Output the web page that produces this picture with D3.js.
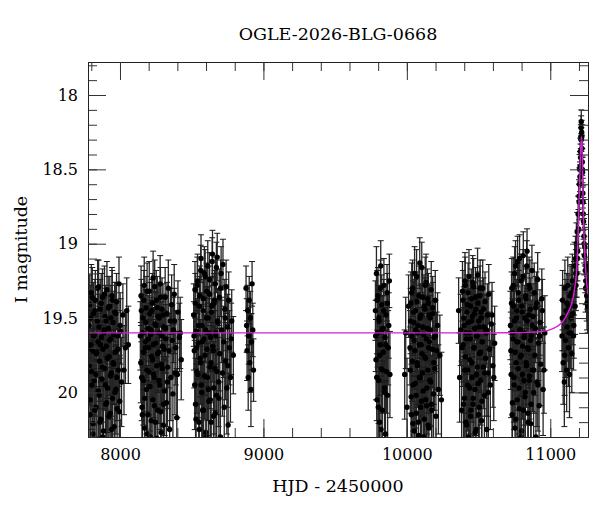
<!DOCTYPE html>
<html><head><meta charset="utf-8">
<script src="https://cdn.jsdelivr.net/npm/d3@7"></script>
<style>
html,body{margin:0;padding:0;background:#fff;}
svg text{font-family:"DejaVu Serif",serif;fill:#000;}
</style></head>
<body>
<svg id="c" width="600" height="512"></svg>
<script>
const title = "OGLE-2026-BLG-0668";
const xLabel = "HJD - 2450000";
const yLabel = "I magnitude";
const xTickValues = [8000, 9000, 10000, 11000];
const yTickValues = [18, 18.5, 19, 19.5, 20];

// season 1
const t1 = [7782,7786,7789,7793,7797,7800,7804,7809,7812,7815,7819,7824,7828,7831,7835,7839,7842,7847,7851,7855,7858,7862,7866,7871,7874,7878,7882,7885,7890,7894,7897,7901,7905,7909,7913,7916,7920,7925,7929,7932,7936,7940,7944,7948,7951,7956,7960,7963,7967,7972,7976,7980,7984,7989,7993,7998,8004,8011,8020,8038];
const m1 = [19.55,19.82,19.41,20.05,19.68,19.33,19.95,19.72,20.21,19.47,19.61,20.12,19.38,19.88,19.74,20.32,19.52,19.66,19.29,20.02,19.79,19.44,20.18,19.63,19.91,19.36,19.71,20.26,19.58,19.84,19.49,20.08,19.69,19.31,19.97,20.35,19.57,19.76,19.42,20.14,19.64,19.87,19.35,20.04,19.53,19.81,20.23,19.46,19.73,19.98,19.39,20.11,19.62,19.85,19.27,20.06,19.59,19.93,19.48,19.70];
const e1 = [.22,.27,.2,.31,.24,.19,.3,.25,.34,.21,.23,.33,.2,.28,.26,.36,.22,.24,.18,.31,.27,.2,.34,.23,.29,.19,.25,.35,.22,.28,.21,.32,.24,.19,.3,.37,.22,.26,.2,.33,.23,.29,.19,.31,.21,.27,.35,.2,.25,.3,.19,.33,.23,.28,.18,.31,.22,.3,.21,.24];
const t1b = [7784,7791,7795,7802,7807,7811,7817,7821,7826,7833,7837,7844,7849,7853,7860,7864,7869,7876,7880,7887,7892,7899,7903,7907,7911,7918,7923,7927,7934,7938,7942,7946,7953,7958,7965,7970,7978,7986,7995,8001,8028,8047,8058];
const m1b = [19.7,20.15,19.5,19.86,19.36,20.28,19.62,19.92,19.45,20.1,19.73,19.3,19.99,19.56,20.2,19.68,19.4,19.83,20.3,19.6,19.34,19.95,19.52,20.07,19.77,19.43,20.16,19.65,19.89,19.5,20.25,19.38,19.8,19.61,20.0,19.47,19.9,19.71,20.13,19.55,19.85,19.45,19.68];
const e1b = [.25,.33,.22,.29,.2,.36,.24,.3,.21,.32,.26,.19,.31,.22,.34,.25,.2,.28,.37,.23,.19,.3,.22,.32,.27,.21,.33,.24,.29,.22,.36,.2,.28,.23,.31,.21,.29,.25,.33,.22,.3,.22,.26];
// season 2
const t2 = [8142,8147,8151,8156,8160,8165,8169,8173,8178,8182,8187,8191,8196,8200,8204,8209,8213,8218,8222,8227,8231,8235,8240,8244,8249,8253,8258,8262,8266,8271,8275,8280,8284,8289,8293,8297,8302,8306,8311,8315,8320,8324,8328,8333,8337,8342,8346,8351,8355,8360,8364,8369,8373,8378,8383,8389,8396,8404,8414,8427];
const m2 = [19.62,19.35,19.9,20.15,19.5,19.73,19.28,20.04,19.66,19.43,19.85,20.28,19.57,19.7,19.32,19.96,19.61,20.19,19.45,19.78,19.23,19.88,20.09,19.54,19.67,19.38,20.31,19.74,19.49,19.92,19.6,19.27,20.13,19.81,19.44,19.69,20.22,19.56,19.99,19.36,19.64,20.07,19.47,19.83,19.3,19.72,20.25,19.52,19.9,19.41,19.65,20.01,19.58,19.34,19.87,19.7,20.17,19.46,19.63,19.78];
const e2 = [.23,.2,.29,.33,.22,.25,.19,.31,.24,.21,.28,.36,.22,.25,.2,.3,.23,.34,.21,.27,.18,.29,.32,.22,.24,.2,.37,.26,.21,.29,.23,.19,.33,.27,.21,.24,.35,.22,.3,.2,.23,.31,.21,.28,.19,.25,.35,.22,.29,.2,.24,.31,.22,.2,.28,.25,.33,.21,.23,.27];
const t2b = [8145,8149,8154,8158,8163,8167,8171,8176,8180,8185,8189,8194,8198,8202,8207,8211,8216,8220,8225,8229,8233,8238,8242,8247,8251,8256,8260,8264,8269,8273,8278,8282,8287,8291,8295,8300,8304,8309,8318,8331,8380,8400,8420];
const m2b = [19.8,19.45,20.1,19.6,19.92,19.38,20.24,19.7,19.53,19.98,19.32,20.15,19.64,19.86,19.47,20.3,19.58,19.76,19.4,20.05,19.68,19.9,19.29,20.2,19.55,19.82,19.43,20.12,19.73,19.5,19.95,19.36,20.27,19.62,19.84,19.48,20.08,19.71,19.57,19.93,19.52,19.88,19.6];
const e2b = [.27,.21,.32,.23,.3,.2,.35,.25,.22,.3,.19,.33,.24,.29,.21,.37,.22,.27,.2,.31,.25,.29,.18,.34,.22,.28,.21,.33,.26,.22,.3,.2,.36,.23,.28,.21,.32,.26,.22,.3,.22,.29,.24];
// season 3
const t3 = [8514,8518,8523,8527,8532,8536,8541,8545,8550,8554,8559,8563,8567,8572,8576,8581,8585,8590,8594,8599,8603,8607,8612,8616,8621,8625,8630,8634,8638,8643,8647,8652,8656,8661,8665,8669,8674,8678,8683,8687,8692,8696,8700,8705,8709,8714,8718,8723,8727,8731,8736,8740,8745,8749,8754,8758,8763,8770,8779,8790];
const m3 = [19.48,19.72,19.31,20.08,19.59,19.86,19.25,19.67,20.2,19.42,19.77,19.18,19.95,19.55,20.12,19.37,19.64,19.89,19.22,20.27,19.5,19.71,19.15,19.98,19.6,19.34,20.05,19.8,19.46,19.12,19.69,20.16,19.4,19.84,19.27,19.62,20.02,19.09,19.53,19.93,19.36,19.74,20.3,19.2,19.58,19.87,19.14,19.66,20.1,19.44,19.79,19.29,19.97,19.56,20.22,19.38,19.7,19.9,19.52,19.75];
const e3 = [.21,.25,.19,.31,.22,.28,.18,.24,.34,.2,.26,.17,.3,.22,.33,.19,.23,.29,.18,.36,.21,.25,.17,.31,.23,.19,.32,.27,.2,.16,.24,.34,.2,.28,.18,.23,.31,.16,.22,.3,.19,.25,.37,.18,.22,.29,.17,.24,.33,.2,.26,.18,.31,.22,.35,.19,.25,.3,.21,.26];
const t3b = [8516,8521,8525,8530,8534,8539,8543,8548,8552,8557,8561,8565,8570,8574,8579,8583,8588,8592,8597,8601,8605,8610,8614,8619,8623,8628,8632,8636,8641,8645,8650,8654,8659,8663,8667,8672,8676,8681,8690,8702,8734,8752,8775];
const m3b = [19.62,19.95,19.4,20.18,19.7,19.28,19.88,19.55,20.25,19.35,19.8,19.1,20.0,19.66,19.45,20.12,19.2,19.75,19.58,20.3,19.32,19.9,19.5,20.06,19.24,19.83,19.63,20.2,19.42,19.07,19.72,19.97,19.38,20.14,19.6,19.16,19.86,19.52,20.04,19.3,19.5,19.82,19.64];
const e3b = [.23,.3,.2,.34,.25,.19,.29,.22,.36,.2,.28,.16,.31,.24,.21,.33,.18,.27,.22,.37,.19,.29,.21,.32,.18,.28,.23,.35,.2,.16,.26,.31,.2,.33,.23,.17,.29,.22,.31,.19,.22,.28,.24];
// season 4
const t4 = [8879,8883,8886,8890,8894,8898,8901,8905,8909,8913,8917,8921,8926,8931];
const m4 = [19.3,19.55,19.72,19.45,19.9,19.62,19.38,19.8,19.5,19.98,19.66,19.27,19.58,19.85];
const e4 = [.15,.18,.2,.17,.22,.19,.16,.2,.18,.25,.19,.15,.18,.21];
// season 5
const t5 = [9781,9785,9788,9792,9796,9799,9803,9807,9810,9814,9818,9822,9825,9829,9833,9836,9840,9844,9848,9851,9855,9859,9862,9866,9870,9874,9878,9882];
const m5 = [19.45,19.78,19.2,20.05,19.6,19.35,19.92,19.52,20.2,19.68,19.15,19.84,19.41,20.12,19.57,19.73,19.28,19.97,19.63,20.28,19.48,19.86,19.33,20.02,19.7,19.55,19.25,19.88];
const e5 = [.2,.27,.18,.31,.23,.19,.29,.21,.34,.25,.17,.28,.2,.33,.22,.26,.18,.31,.24,.36,.21,.28,.19,.32,.25,.22,.18,.29];
const t5b = [9783,9790,9794,9801,9805,9812,9816,9820,9827,9831,9838,9846,9853,9864];
const m5b = [19.62,19.9,19.38,20.1,19.5,19.75,19.3,20.25,19.58,19.85,19.45,20.0,19.68,19.4];
const e5b = [.24,.29,.2,.33,.22,.27,.19,.36,.23,.29,.21,.31,.25,.2];
// season 6
const t6 = [9985,9992,10001,10012,10022,10026,10030,10034,10038,10042,10046,10050,10054,10058,10062,10066,10070,10074,10078,10082,10086,10090,10094,10098,10102,10106,10110,10114,10118,10122,10126,10130,10134,10138,10142,10146,10150,10154,10158,10162,10166,10170,10174,10178,10182,10186,10190,10194,10198,10203,10208,10214,10220,10230,10241];
const m6 = [19.88,19.6,20.1,19.42,19.7,19.52,20.03,19.33,19.79,20.21,19.46,19.65,19.2,19.94,19.58,20.14,19.39,19.82,19.55,20.29,19.68,19.13,19.9,19.48,20.06,19.74,19.36,19.99,19.61,20.18,19.44,19.77,19.26,20.09,19.57,19.85,19.4,20.24,19.66,19.5,19.93,19.31,20.12,19.71,19.47,20.01,19.63,19.84,19.38,20.16,19.72,19.55,19.98,19.75,20.05];
const e6 = [.3,.24,.33,.21,.25,.22,.31,.2,.27,.35,.21,.24,.18,.3,.23,.34,.2,.28,.22,.37,.25,.17,.29,.21,.32,.26,.2,.31,.24,.35,.21,.27,.19,.32,.22,.29,.2,.36,.24,.22,.3,.19,.33,.26,.21,.31,.24,.28,.2,.34,.26,.22,.3,.27,.32];
const t6b = [10024,10028,10032,10036,10040,10044,10048,10052,10056,10060,10064,10068,10072,10076,10080,10084,10088,10092,10096,10100,10104,10108,10112,10116,10120,10124,10128,10132,10136,10140,10144,10148,10152,10156,10160,10164,10172,10180,10188,10200];
const m6b = [19.85,19.4,20.15,19.62,19.3,19.95,19.53,20.26,19.72,19.45,20.02,19.22,19.8,19.6,20.2,19.35,19.9,19.5,20.1,19.68,19.16,19.87,19.56,20.3,19.42,19.76,19.28,20.05,19.64,19.97,19.37,20.22,19.7,19.48,19.92,19.58,20.08,19.43,19.8,19.62];
const e6b = [.29,.21,.34,.24,.19,.31,.22,.37,.26,.21,.32,.18,.28,.23,.35,.2,.3,.22,.33,.25,.17,.29,.22,.38,.21,.27,.19,.32,.24,.31,.2,.36,.26,.21,.3,.23,.33,.21,.28,.24];
// season 7
const t7 = [10361,10368,10375,10382,10388,10393,10397,10401,10405,10409,10413,10417,10421,10425,10429,10433,10437,10441,10445,10449,10453,10457,10461,10465,10469,10473,10477,10481,10485,10489,10493,10497,10501,10505,10509,10513,10517,10521,10525,10529,10533,10537,10541,10545,10549,10553,10557,10561,10566,10571,10576,10582,10589,10600,10612];
const m7 = [19.45,19.9,19.58,20.12,19.32,19.68,19.5,20.04,19.25,19.76,19.6,20.22,19.41,19.85,19.53,19.22,19.97,19.64,20.16,19.37,19.8,19.49,20.08,19.29,19.7,19.57,20.27,19.44,19.88,19.62,19.21,19.94,19.52,20.1,19.35,19.73,19.46,20.19,19.66,19.3,19.83,19.56,20.02,19.39,19.77,19.6,20.25,19.48,19.87,19.34,19.71,19.95,19.54,19.82,19.67];
const e7 = [.22,.3,.24,.33,.2,.25,.21,.31,.19,.27,.23,.35,.2,.29,.22,.18,.31,.24,.34,.2,.28,.21,.32,.19,.25,.23,.37,.21,.29,.24,.18,.3,.22,.33,.2,.26,.21,.35,.24,.19,.28,.22,.31,.2,.27,.23,.36,.21,.29,.2,.25,.3,.22,.28,.25];
const t7b = [10385,10391,10395,10399,10403,10407,10411,10415,10419,10423,10427,10431,10435,10439,10443,10447,10451,10455,10459,10463,10467,10471,10475,10479,10483,10487,10491,10495,10499,10503,10507,10511,10515,10519,10523,10527,10535,10543,10555,10568,10594,10606];
const m7b = [19.7,19.38,20.08,19.55,19.85,19.28,20.2,19.64,19.46,19.95,19.33,20.3,19.6,19.78,19.42,20.12,19.52,19.9,19.26,20.04,19.7,19.47,19.98,19.36,20.25,19.62,19.83,19.4,20.15,19.56,19.74,19.3,19.92,19.5,20.06,19.66,19.44,19.87,19.58,20.0,19.48,19.9];
const e7b = [.26,.2,.32,.23,.29,.19,.34,.24,.21,.31,.2,.38,.23,.27,.21,.33,.22,.3,.18,.32,.25,.21,.31,.2,.36,.24,.28,.21,.34,.22,.26,.19,.3,.22,.32,.24,.21,.29,.23,.31,.22,.29];
// season 8
const t8 = [10722,10727,10732,10736,10740,10744,10748,10752,10756,10760,10764,10768,10772,10776,10780,10784,10788,10792,10796,10800,10804,10808,10812,10816,10820,10824,10828,10832,10836,10840,10844,10848,10852,10856,10860,10864,10868,10872,10876,10880,10884,10888,10892,10896,10900,10904,10908,10912,10917,10922,10928,10934,10941,10950,10962];
const m8 = [19.55,19.88,19.3,20.07,19.64,19.42,19.95,19.2,19.73,20.18,19.5,19.66,19.12,19.84,19.38,20.11,19.58,19.76,19.25,20.26,19.46,19.69,19.08,19.92,19.6,20.03,19.35,19.8,19.15,19.52,20.14,19.71,19.28,19.89,19.44,20.21,19.62,19.18,19.85,19.49,20.0,19.33,19.75,19.57,20.3,19.4,19.93,19.24,19.67,20.09,19.53,19.81,19.37,19.98,19.6];
const e8 = [.23,.29,.2,.32,.24,.21,.3,.18,.26,.34,.22,.25,.17,.28,.2,.33,.23,.27,.18,.36,.21,.25,.16,.3,.23,.31,.2,.28,.17,.22,.33,.26,.19,.29,.21,.35,.24,.17,.28,.22,.31,.2,.27,.23,.37,.21,.3,.18,.25,.32,.22,.28,.2,.31,.25];
const t8b = [10725,10730,10734,10738,10742,10746,10750,10754,10758,10762,10766,10770,10774,10778,10782,10786,10790,10794,10798,10802,10806,10810,10814,10818,10822,10826,10830,10834,10838,10842,10846,10850,10854,10858,10862,10866,10874,10886,10898,10914,10926,10945,10956];
const m8b = [19.72,19.4,20.15,19.6,19.28,19.9,19.52,20.24,19.15,19.8,19.45,20.05,19.66,19.33,19.97,19.1,19.58,20.3,19.75,19.42,19.88,19.22,20.12,19.63,19.5,20.0,19.37,19.82,19.05,19.7,20.2,19.48,19.92,19.3,19.65,20.08,19.55,19.85,19.43,19.95,19.62,19.45,19.85];
const e8b = [.26,.21,.34,.23,.19,.3,.22,.35,.17,.28,.21,.32,.24,.2,.31,.16,.22,.38,.27,.21,.3,.18,.33,.23,.22,.31,.2,.28,.15,.25,.35,.21,.3,.19,.24,.33,.22,.29,.21,.31,.24,.21,.29];
// season 9 (event)
const t9 = [11082,11086,11090,11094,11098,11102,11106,11110,11114,11118,11122,11126,11130,11134,11138,11142,11146,11150,11154,11158,11162,11166,11170,11173,11176,11179,11182,11185,11188,11191,11194,11197,11200,11203,11205,11207,11209,11211,11213,11215,11217,11219,11221,11223,11225,11227,11229,11232,11235,11238,11241,11244,11247,11250,11254,11258,11261];
const m9 = [19.62,19.38,19.8,19.5,19.93,19.3,19.65,19.45,19.85,19.56,19.28,19.7,19.42,19.88,19.35,19.6,19.5,19.74,19.25,19.47,19.62,19.3,19.15,19.42,19.1,19.28,19.0,19.2,18.92,19.05,18.8,18.9,18.68,18.6,18.5,18.55,18.38,18.42,18.28,18.22,18.3,18.25,18.36,18.45,18.52,18.66,18.72,18.85,18.95,19.08,19.02,19.18,19.25,19.15,19.35,19.28,19.42];
const e9 = [.24,.2,.28,.22,.3,.19,.25,.21,.28,.23,.19,.26,.21,.29,.2,.24,.22,.26,.18,.21,.23,.18,.16,.19,.15,.17,.14,.16,.13,.14,.12,.13,.11,.11,.1,.1,.09,.09,.08,.08,.08,.08,.09,.09,.1,.1,.11,.12,.12,.13,.13,.15,.16,.15,.17,.16,.18];
const t9b = [11084,11100,11116,11132,11148,11164,11178,11190,11201,11208,11214,11216,11220,11224,11230,11236,11246,11256];
const m9b = [19.5,19.75,19.4,19.6,19.33,19.55,19.2,19.1,18.72,18.48,18.3,18.18,18.28,18.5,18.8,19.0,19.3,19.4];
const e9b = [.22,.27,.2,.24,.19,.22,.16,.15,.12,.1,.08,.08,.08,.09,.11,.13,.16,.18];

// model curve samples
const modelT   = [7777, 9000, 10000, 10500, 10800, 10950, 11000, 11050, 11090, 11125, 11150, 11170, 11182, 11190, 11198, 11206, 11212, 11217, 11221, 11226, 11231, 11240, 11250, 11263];
const modelMag = [19.60, 19.60, 19.60, 19.60, 19.598, 19.59, 19.578, 19.555, 19.52, 19.46, 19.40, 19.30, 19.20, 19.05, 18.80, 18.55, 18.36, 18.28, 18.32, 18.55, 18.80, 19.05, 19.22, 19.34];

const seasons = [[t1,m1,e1],[t1b,m1b,e1b],[t2,m2,e2],[t2b,m2b,e2b],[t3,m3,e3],[t3b,m3b,e3b],[t4,m4,e4],[t5,m5,e5],[t5b,m5b,e5b],[t6,m6,e6],[t6b,m6b,e6b],[t7,m7,e7],[t7b,m7b,e7b],[t8,m8,e8],[t8b,m8b,e8b],[t9,m9,e9],[t9b,m9b,e9b]];
const points = [];
seasons.forEach(([t,m,e]) => t.forEach((d,i) => points.push({t:d, m:m[i], e:e[i]})));
const model = modelT.map((d,i) => ({t:d, m:modelMag[i]}));

const L = 88, R = 588, T = 62, B = 437;
const x = d3.scaleLinear().domain([7777, 11263]).range([L, R]);
const y = d3.scaleLinear().domain([17.778, 20.3]).range([T, B]);

const svg = d3.select("#c");
svg.append("defs").append("clipPath").attr("id","clip")
  .append("rect").attr("x",L).attr("y",T).attr("width",R-L).attr("height",B-T);

const plot = svg.append("g").attr("clip-path","url(#clip)");
const cap = 3;
const eb = plot.append("g");
eb.selectAll("line.v").data(points).join("line").attr("class","v")
  .attr("x1",d=>x(d.t)).attr("x2",d=>x(d.t))
  .attr("y1",d=>y(d.m-d.e)).attr("y2",d=>y(d.m+d.e))
  .attr("stroke","#262626").attr("stroke-width",1.3);
eb.selectAll("line.c1").data(points).join("line").attr("class","c1")
  .attr("x1",d=>x(d.t)-cap).attr("x2",d=>x(d.t)+cap)
  .attr("y1",d=>y(d.m-d.e)).attr("y2",d=>y(d.m-d.e))
  .attr("stroke","#1a1a1a").attr("stroke-width",1);
eb.selectAll("line.c2").data(points).join("line").attr("class","c2")
  .attr("x1",d=>x(d.t)-cap).attr("x2",d=>x(d.t)+cap)
  .attr("y1",d=>y(d.m+d.e)).attr("y2",d=>y(d.m+d.e))
  .attr("stroke","#1a1a1a").attr("stroke-width",1);

plot.append("g").selectAll("circle").data(points).join("circle")
  .attr("cx",d=>x(d.t)).attr("cy",d=>y(d.m)).attr("r",2.7).attr("fill","#000");

plot.append("path").datum(model)
  .attr("d", d3.line().x(d=>x(d.t)).y(d=>y(d.m)).curve(d3.curveMonotoneX))
  .attr("fill","none").attr("stroke","#d81ed8").attr("stroke-width",1.4);

// axes
const xMinor = d3.range(7800, 11263, 200);
const yMinor = d3.range(17.8, 20.31, 0.1).map(v=>+v.toFixed(1));
function styleAx(g){ g.selectAll("path").attr("stroke","#222"); g.selectAll("line").attr("stroke","#333"); g.selectAll("text").style("font-family","'DejaVu Serif', serif").style("font-size","16px").attr("fill","#000"); }

svg.append("g").attr("transform",`translate(0,${B})`).call(d3.axisBottom(x).tickValues(xMinor).tickSize(-9).tickSizeOuter(0).tickFormat("")).call(styleAx);
svg.append("g").attr("transform",`translate(0,${B})`).call(d3.axisBottom(x).tickValues(xTickValues).tickSize(-18).tickSizeOuter(0).tickPadding(12).tickFormat(d3.format("d"))).call(styleAx);
svg.append("g").attr("transform",`translate(0,${T})`).call(d3.axisTop(x).tickValues(xMinor).tickSize(-9).tickSizeOuter(0).tickFormat("")).call(styleAx);
svg.append("g").attr("transform",`translate(0,${T})`).call(d3.axisTop(x).tickValues(xTickValues).tickSize(-18).tickSizeOuter(0).tickFormat("")).call(styleAx);
svg.append("g").attr("transform",`translate(${L},0)`).call(d3.axisLeft(y).tickValues(yMinor).tickSize(-9).tickSizeOuter(0).tickFormat("")).call(styleAx);
svg.append("g").attr("transform",`translate(${L},0)`).call(d3.axisLeft(y).tickValues(yTickValues).tickSize(-18).tickSizeOuter(0).tickPadding(10).tickFormat(d=>String(d))).call(styleAx);
svg.append("g").attr("transform",`translate(${R},0)`).call(d3.axisRight(y).tickValues(yMinor).tickSize(-9).tickSizeOuter(0).tickFormat("")).call(styleAx);
svg.append("g").attr("transform",`translate(${R},0)`).call(d3.axisRight(y).tickValues(yTickValues).tickSize(-18).tickSizeOuter(0).tickFormat("")).call(styleAx);

svg.append("text").attr("x",(L+R)/2).attr("y",40).attr("text-anchor","middle").style("font-size","17.5px").text(title);
svg.append("text").attr("x",(L+R)/2).attr("y",492).attr("text-anchor","middle").style("font-size","17.5px").text(xLabel);
svg.append("text").attr("transform",`translate(27,${(T+B)/2}) rotate(-90)`).attr("text-anchor","middle").style("font-size","17.5px").text(yLabel);
</script>
</body></html>
